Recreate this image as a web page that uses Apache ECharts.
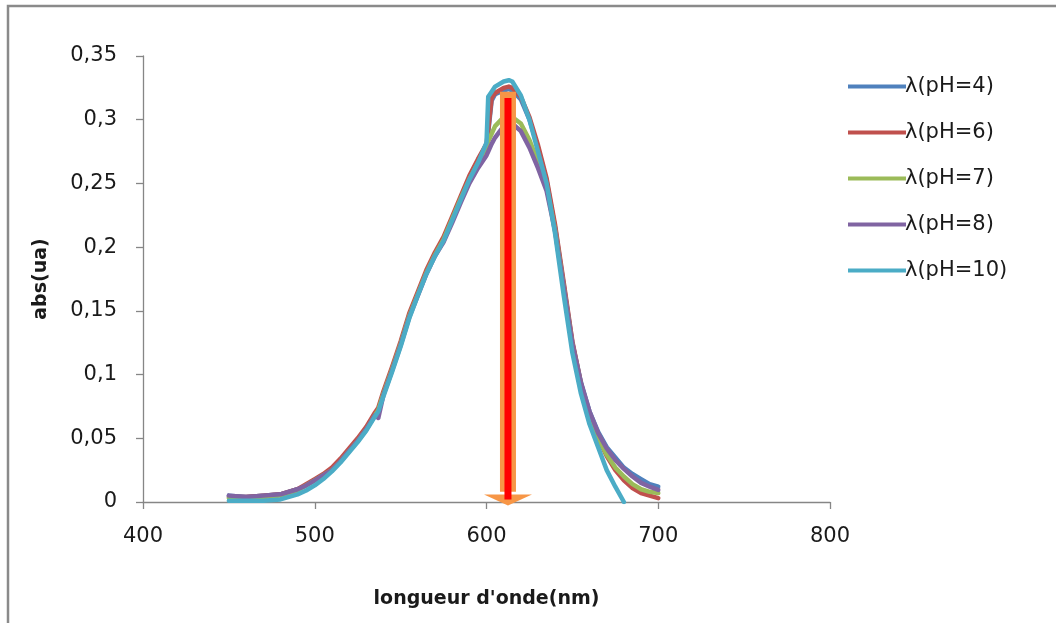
<!DOCTYPE html>
<html>
<head>
<meta charset="utf-8">
<script src="https://cdn.jsdelivr.net/npm/echarts@6/dist/echarts.min.js"></script>
<style>
html,body{margin:0;padding:0;background:#fff;}
#c{width:1056px;height:623px;}
</style>
</head>
<body>
<div id="c"></div>
<script>
const wavelengths = [450,460,470,480,490,495,500,505,510,515,520,525,530,535,537,540,545,550,555,560,565,570,575,580,585,590,595,600,601,603,605,610,613,615,620,625,630,635,640,645,650,655,660,665,670,675,680,685,690,695,700];
const pH4 = [0.005,0.004,0.005,0.006,0.010,0.013,0.017,0.021,0.025,0.032,0.040,0.048,0.057,0.068,0.072,0.085,0.104,0.124,0.146,0.163,0.180,0.194,0.206,0.222,0.238,0.254,0.267,0.279,0.290,0.315,0.320,0.323,0.324,0.323,0.316,0.300,0.278,0.252,0.215,0.170,0.125,0.094,0.071,0.055,0.043,0.035,0.027,0.022,0.018,0.014,0.012];
const pH6 = [0.004,0.004,0.005,0.006,0.010,0.014,0.018,0.022,0.027,0.034,0.042,0.050,0.059,0.070,0.074,0.087,0.106,0.126,0.148,0.165,0.182,0.196,0.208,0.224,0.240,0.256,0.269,0.281,0.292,0.317,0.321,0.325,0.326,0.325,0.318,0.302,0.280,0.254,0.217,0.172,0.126,0.093,0.069,0.050,0.036,0.025,0.017,0.011,0.007,0.005,0.003];
const pH7 = [0.003,0.003,0.004,0.005,0.009,0.013,0.017,0.021,0.025,0.032,0.040,0.048,0.057,0.068,0.072,0.085,0.104,0.124,0.146,0.163,0.180,0.194,0.206,0.222,0.238,0.253,0.266,0.279,0.283,0.289,0.295,0.302,0.303,0.302,0.297,0.284,0.267,0.247,0.213,0.168,0.123,0.091,0.068,0.050,0.037,0.027,0.020,0.014,0.010,0.008,0.007];
const pH8 = [0.005,0.004,0.005,0.006,0.010,0.013,0.017,0.021,0.025,0.032,0.040,0.048,0.057,0.068,0.066,0.084,0.103,0.123,0.145,0.162,0.179,0.193,0.204,0.219,0.235,0.250,0.262,0.272,0.275,0.281,0.286,0.295,0.298,0.297,0.291,0.278,0.262,0.244,0.212,0.168,0.124,0.093,0.071,0.054,0.042,0.033,0.026,0.020,0.015,0.012,0.0095];
const pH10 = [0.001,0.001,0.001,0.002,0.006,0.009,0.013,0.018,0.024,0.031,0.039,0.047,0.056,0.067,0.071,0.083,0.102,0.122,0.144,0.162,0.179,0.193,0.205,0.221,0.237,0.253,0.266,0.282,0.318,0.322,0.326,0.330,0.331,0.330,0.319,0.300,0.275,0.250,0.210,0.162,0.117,0.085,0.061,0.043,0.025,0.012,0.000,null,null,null,null];
const seriesNames = ['λ(pH=4)','λ(pH=6)','λ(pH=7)','λ(pH=8)','λ(pH=10)'];
const seriesValues = [pH4,pH6,pH7,pH8,pH10];
const seriesColors = ['#4F81BD','#C0504D','#9BBB59','#8064A2','#4BACC6'];
const xTicks = [400,500,600,700,800];
const yTicks = [0,0.05,0.1,0.15,0.2,0.25,0.3,0.35];
const arrowX = 612.5;
const arrowTop = 0.322;
const arrowInnerTop = 0.317;

const FONT = 'DejaVu Sans';
const chart = echarts.init(document.getElementById('c'), null, {renderer:'canvas'});

const lineSeries = seriesNames.map((n,i)=>({
  name:n, type:'line', symbol:'none', showSymbol:false, smooth:false,
  data: wavelengths.map((w,j)=>[w, seriesValues[i][j]]),
  lineStyle:{color:seriesColors[i], width:4.5, cap:'round', join:'round'},
  itemStyle:{color:seriesColors[i]},
  connectNulls:false, silent:true, z:2
}));

const option = {
  animation:false,
  backgroundColor:'#ffffff',
  graphic:[{type:'rect', shape:{x:8, y:6, width:1100, height:700}, style:{fill:'none', stroke:'#8a8a8a', lineWidth:2.5}, silent:true}],
  grid:{left:143, right:226, top:56, bottom:121, containLabel:false},
  legend:{
    data:seriesNames, orient:'vertical', left:843, top:71,
    itemWidth:58, itemHeight:14, itemGap:25,
    textStyle:{fontFamily:FONT, fontSize:21, color:'#1a1a1a', padding:[0,0,0,-6]},
    icon:'path://M0,0 L58,0 L58,4 L0,4 Z'
  },
  xAxis:{
    type:'value', min:xTicks[0], max:xTicks[xTicks.length-1], interval:100,
    name:"longueur d'onde(nm)", nameLocation:'middle', nameGap:88,
    nameTextStyle:{fontFamily:FONT, fontSize:19, fontWeight:'bold', color:'#1a1a1a'},
    axisLine:{show:true, lineStyle:{color:'#868686', width:1.3}},
    axisTick:{show:true, length:7, lineStyle:{color:'#868686', width:1.3}},
    axisLabel:{fontFamily:FONT, fontSize:21, color:'#1a1a1a', margin:24},
    splitLine:{show:false}
  },
  yAxis:{
    type:'value', min:yTicks[0], max:yTicks[yTicks.length-1], interval:0.05,
    name:'abs(ua)', nameLocation:'middle', nameGap:92, nameRotate:90,
    nameTextStyle:{fontFamily:FONT, fontSize:19, fontWeight:'bold', color:'#1a1a1a'},
    axisLine:{show:true, lineStyle:{color:'#868686', width:1.3}},
    axisTick:{show:true, length:7, lineStyle:{color:'#868686', width:1.3}},
    axisLabel:{fontFamily:FONT, fontSize:21, color:'#1a1a1a', margin:26,
      formatter:v=>{ const r = Math.round(v*100)/100; return String(r).replace('.',','); }},
    splitLine:{show:false}
  },
  series: lineSeries.concat([
    {name:'arrowOuter', type:'line', symbol:'none', silent:true, z:5,
     data:[[arrowX, arrowTop],[arrowX, 0.008]],
     lineStyle:{color:'#F79646', width:16, cap:'butt'}},
    {name:'arrowHead', type:'scatter', silent:true, z:6,
     data:[[arrowX, 0]], symbol:'path://M0,0 L2,0 L1,1 Z', symbolSize:[48,11], symbolOffset:[0,-2],
     itemStyle:{color:'#F79646', opacity:1}},
    {name:'arrowInner', type:'line', symbol:'none', silent:true, z:7,
     data:[[arrowX, arrowInnerTop],[arrowX, 0.002]],
     lineStyle:{color:'#FF0000', width:7, cap:'butt'}}
  ])
};
chart.setOption(option);
</script>
</body>
</html>
